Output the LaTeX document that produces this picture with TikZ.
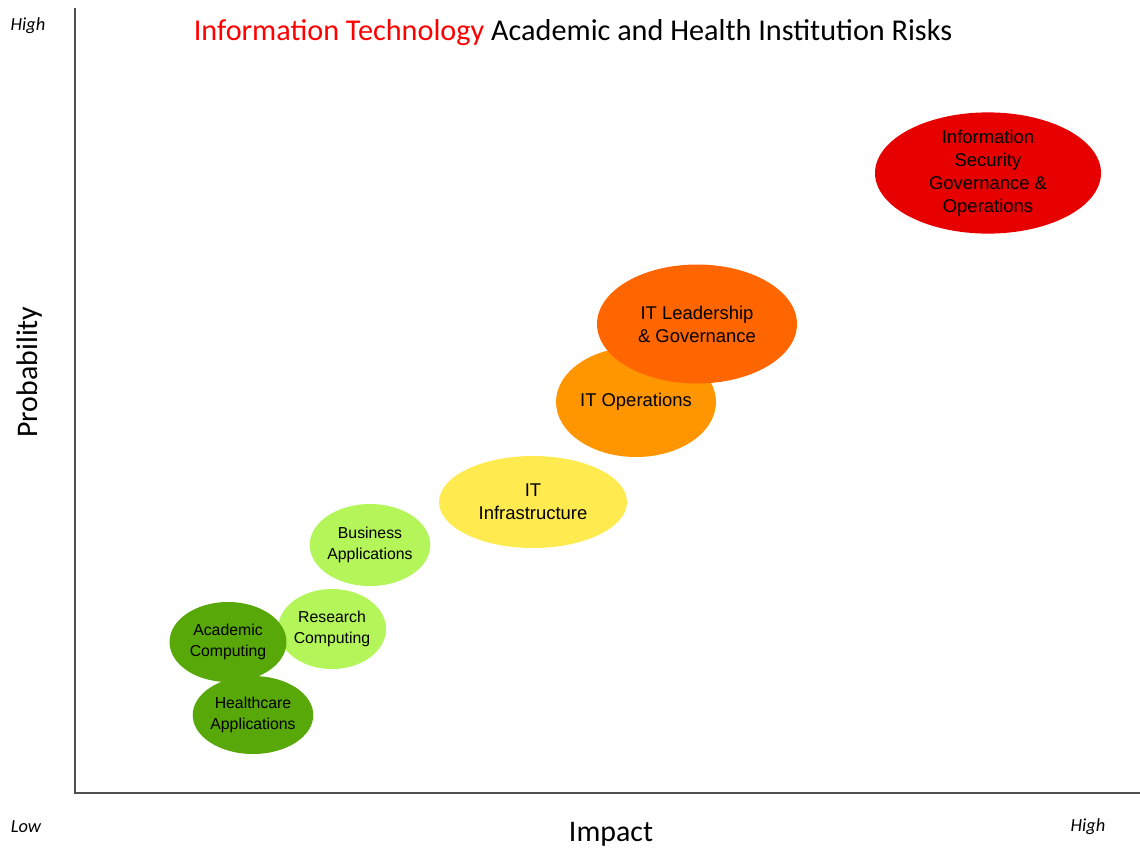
\documentclass[tikz,border=0pt]{standalone}
\usepackage{fontspec}
\setmainfont{Carlito}
\newfontfamily\arialfont{Liberation Sans}
\usetikzlibrary{shapes.geometric}

\definecolor{riskred}{HTML}{E60000}
\definecolor{riskorange}{HTML}{FF6600}
\definecolor{risklightorange}{HTML}{FF9600}
\definecolor{riskyellow}{HTML}{FFEB50}
\definecolor{risklightgreen}{HTML}{B4F55A}
\definecolor{riskgreen}{HTML}{58A80A}
\definecolor{axisgray}{HTML}{505050}

\begin{document}
\begin{tikzpicture}[x=0.02cm, y=-0.02cm,
    risk/.style={shape=ellipse, inner sep=0pt, align=center, font=\arialfont\fontsize{10.5}{13}\selectfont},
    smallrisk/.style={risk, font=\arialfont\fontsize{9}{11.5}\selectfont},
    level/.style={font=\itshape\fontsize{10.5}{12}\selectfont}]
      \useasboundingbox (0,0) rectangle (1140,853);

      % axes
      \coordinate (top) at (75,8);
      \coordinate (origin) at (75,793);
      \coordinate (right) at (1140,793);
      \draw[axisgray, line width=1.1pt] (top) -- (origin) -- (right);

      \node[level] at (28,26) (high_p) {High};
      \node[level] at (26,827) (low) {Low};
      \node[level] at (1088,827) (high_i) {High};
      \node[font=\fontsize{17}{20}\selectfont] at (611,834) (impact) {Impact};
      \node[font=\fontsize{17}{20}\selectfont, rotate=90] at (30,372) (probability) {Probability};

      \node[font=\fontsize{17.2}{20}\selectfont] at (573,33) (title)
        {\textcolor{red}{Information Technology} Academic and Health Institution Risks};

      % risks
      \node[risk, fill=riskred, minimum width=4.52cm, minimum height=2.24cm] at (988,173) (security)
        {Information\\Security\\Governance \&\\Operations};
      \node[risk, fill=risklightorange, minimum width=3.2cm, minimum height=2.2cm] at (636,402) (operations)
        {IT Operations};
      \node[risk, fill=riskorange, minimum width=4cm, minimum height=2.38cm] at (697,324) (leadership)
        {IT Leadership\\\& Governance};
      \node[risk, fill=riskyellow, minimum width=3.76cm, minimum height=1.84cm] at (533,502) (infrastructure)
        {IT\\Infrastructure};
      \node[smallrisk, fill=risklightgreen, minimum width=2.32cm, minimum height=1.64cm] at (370,545) (business)
        {Business\\Applications};
      \node[smallrisk, fill=risklightgreen, minimum width=2.04cm, minimum height=1.6cm] at (332,629) (research)
        {Research\\Computing};
      \node[smallrisk, fill=riskgreen, minimum width=2.34cm, minimum height=1.6cm] at (228,642) (academic)
        {Academic\\Computing};
      \node[smallrisk, fill=riskgreen, minimum width=2.34cm, minimum height=1.56cm] at (253,715) (healthcare)
        {Healthcare\\Applications};
    \end{tikzpicture}
\end{document}
